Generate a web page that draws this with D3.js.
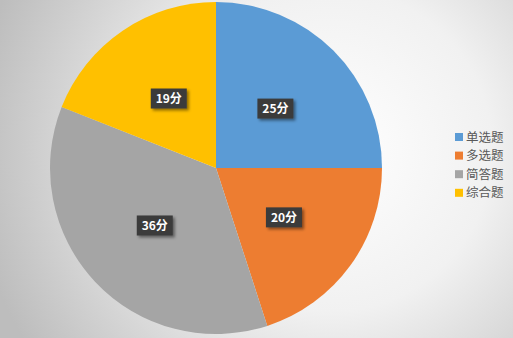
<!DOCTYPE html>
<html>
<head>
<meta charset="utf-8">
<script src="https://cdn.jsdelivr.net/npm/d3@7"></script>
<style>
  body { margin: 0; }
  svg { display: block; }
</style>
</head>
<body>
<div class="canvas"></div>
<script>
const categories = ['单选题', '多选题', '简答题', '综合题']
const scores = [25, 20, 36, 19]
const labels = ['25分', '20分', '36分', '19分']
const colors = ['#5B9BD5', '#ED7D31', '#A5A5A5', '#FFC000']

const width = 513, height = 338
const cx = 216, cy = 168, radius = 166

const svg = d3.select('.canvas')
    .append('svg')
    .attr('width', width)
    .attr('height', height)

const defs = svg.append('defs')
const bg = defs.append('radialGradient')
    .attr('id', 'bg')
    .attr('gradientUnits', 'userSpaceOnUse')
    .attr('cx', 330).attr('cy', 150).attr('r', 360)
bg.append('stop').attr('offset', '0%').attr('stop-color', '#ffffff')
bg.append('stop').attr('offset', '45%').attr('stop-color', '#f1f1f1')
bg.append('stop').attr('offset', '100%').attr('stop-color', '#bdbdbd')

const shadow = defs.append('filter').attr('id', 'shadow')
    .attr('x', '-30%').attr('y', '-30%').attr('width', '160%').attr('height', '160%')
shadow.append('feDropShadow')
    .attr('dx', 2).attr('dy', 2).attr('stdDeviation', 1.5)
    .attr('flood-color', '#000').attr('flood-opacity', 0.45)

svg.append('rect')
    .attr('width', width)
    .attr('height', height)
    .attr('fill', 'url(#bg)')

const graph = svg.append('g')
    .attr('transform', `translate(${cx}, ${cy})`)

const pie = d3.pie().sort(null).value(d => d)
const arc = d3.arc().innerRadius(0).outerRadius(radius)
const labelArc = d3.arc().innerRadius(84).outerRadius(84)

const slices = pie(scores)

graph.selectAll('path')
    .data(slices)
    .enter()
    .append('path')
    .attr('d', arc)
    .attr('fill', (d, i) => colors[i])

// data labels in dark boxes
const lab = graph.selectAll('.lab')
    .data(slices)
    .enter()
    .append('g')
    .attr('class', 'lab')
    .attr('transform', d => `translate(${labelArc.centroid(d)})`)

lab.append('rect')
    .attr('x', -18).attr('y', -10)
    .attr('width', 36).attr('height', 20)
    .attr('fill', '#3b3b3b')
    .attr('filter', 'url(#shadow)')

lab.append('text')
    .text((d, i) => labels[i])
    .attr('text-anchor', 'middle')
    .attr('dy', '0.36em')
    .attr('fill', '#ffffff')
    .attr('font-size', 12)
    .attr('font-weight', 'bold')
    .attr('font-family', '"Noto Sans CJK SC", "Noto Sans", sans-serif')

// legend
const legend = svg.append('g')
    .attr('transform', 'translate(455, 137)')

const item = legend.selectAll('g')
    .data(categories)
    .enter()
    .append('g')
    .attr('transform', (d, i) => `translate(0, ${i * 18.6})`)

item.append('rect')
    .attr('x', 0).attr('y', -4)
    .attr('width', 8).attr('height', 8)
    .attr('fill', (d, i) => colors[i])

item.append('text')
    .text(d => d)
    .attr('x', 11)
    .attr('dy', '0.36em')
    .attr('fill', '#595959')
    .attr('font-size', 12.5)
    .attr('font-family', '"Noto Sans CJK SC", sans-serif')
</script>
</body>
</html>
